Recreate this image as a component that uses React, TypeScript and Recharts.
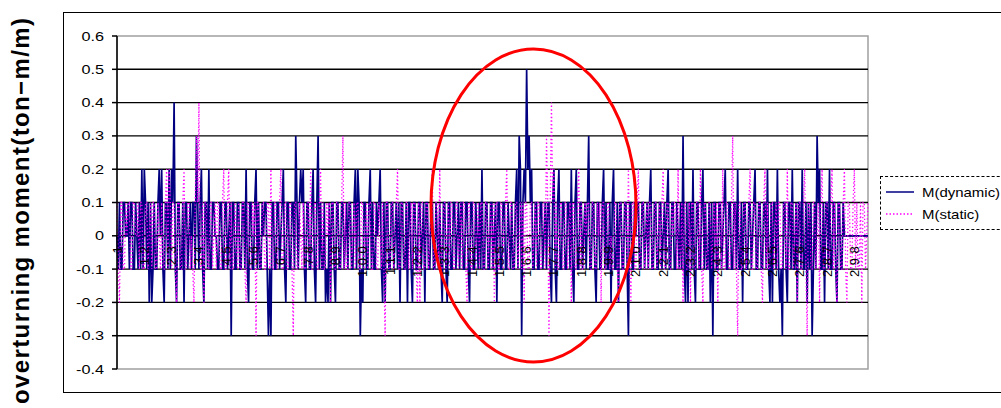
import React from 'react'
import { LineChart, Line, XAxis, YAxis, ReferenceLine, ReferenceArea } from 'recharts'

if (typeof document !== 'undefined') document.body.style.margin = '0'

// time axis: 606 samples, half a unit apart; a label every 22 samples (1, 12, 23, ...)
const sampleTime = Array.from({ length: 606 }, (_, i) => 1 + i / 2)
const yTicks = [0.6, 0.5, 0.4, 0.3, 0.2, 0.1, 0, -0.1, -0.2, -0.3, -0.4]
const gridValues = [0.5, 0.4, 0.3, 0.2, 0.1, 0, -0.1, -0.2, -0.3]

const seriesNames = ['M(dynamic)', 'M(static)']
const seriesColors = ['#000080', '#ff00ff']

// M(dynamic)
const mDynamic = [
  0, -.1, .1, -.1, -.1, .1, .1, 0, 0, .1, -.1, .1, .1, -.1, -.1, .1, 0, -.1, .1, -.1,
  .2, -.1, .2, .1, -.1, .1, -.2, .1, -.2, -.1, .1, -.1, -.1, .1, .2, 0, .2, -.1, -.2, .1,
  .1, -.1, .2, -.1, .2, .1, .4, -.1, -.2, .1, .1, -.1, -.1, .1, -.2, .1, .1, -.1, 0, .1,
  -.1, .1, .1, -.1, .3, .1, -.1, .1, .2, -.1, -.2, .1, .1, -.1, .2, -.1, -.1, .1, .1, 0,
  0, -.1, -.1, .1, .1, -.1, -.1, .1, .1, -.1, 0, .1, -.3, .1, .1, -.1, -.1, .1, .1, -.1,
  -.1, .1, .1, -.1, .2, -.1, -.2, .1, .1, -.1, -.1, .1, .2, -.1, .1, -.1, -.1, .1, 0, .1,
  .1, -.1, -.3, -.1, -.3, .1, .1, -.1, -.1, .1, .1, -.1, 0, .1, .2, -.1, -.2, .1, .1, -.1,
  -.1, .1, .1, -.1, .3, .1, -.1, .1, .2, .1, .2, -.1, -.2, .1, .1, -.1, -.1, .1, .2, -.1,
  -.2, .1, .3, -.1, .1, -.1, -.1, .1, -.2, -.1, -.2, .1, -.2, .1, .1, -.1, -.2, .1, .1, -.1,
  -.1, .1, .1, -.1, 0, .1, -.1, .1, .1, -.1, -.1, .1, .2, -.1, .2, .1, -.3, -.1, -.2, .1,
  .1, -.1, -.1, .1, .2, -.1, .1, -.1, -.1, .1, 0, .1, .2, -.1, -.2, .1, -.2, .1, .1, -.1,
  -.1, .1, .1, -.1, 0, .1, -.1, .1, -.2, .1, .1, -.1, -.1, .1, -.2, .1, .1, -.1, -.2, .1,
  .1, -.1, -.1, .1, .1, -.1, 0, .1, -.2, .1, .1, -.1, -.1, .1, .1, -.1, -.1, .1, 0, -.1,
  .1, -.1, -.2, .1, .1, -.1, -.2, .1, .1, -.1, -.1, .1, .1, -.1, 0, .1, -.1, .1, .1, -.1,
  -.1, .1, .1, -.1, -.2, .1, .1, -.1, -.1, .1, 0, -.1, .1, -.1, .2, -.1, -.1, .1, .1, -.1,
  -.1, .1, .1, -.1, 0, .1, -.2, .1, .1, -.1, -.1, .1, .1, -.1, -.1, .1, 0, -.1, .1, -.1,
  -.1, .1, .2, -.1, .3, .2, -.3, .1, .2, .1, .5, .2, .3, .1, .2, -.1, -.1, .1, .1, -.1,
  -.1, .1, .1, -.1, 0, .1, -.1, .1, .1, -.1, -.2, .1, .2, -.1, -.2, .1, .2, -.1, -.1, .1,
  .1, -.1, -.1, .1, .1, -.1, .2, -.1, -.2, .1, .2, -.1, -.1, .1, .1, -.1, 0, .1, -.1, .1,
  .3, -.1, -.1, .1, .1, -.1, -.2, .1, .1, -.1, -.1, .1, .2, -.1, .1, -.1, -.1, .1, -.2, .1,
  .2, -.1, -.1, .1, -.2, .1, .1, -.1, -.1, .1, .1, -.1, -.3, .1, .1, -.1, -.1, .1, 0, .1,
  .1, -.1, -.1, .1, .1, -.1, 0, .1, -.1, .1, .2, -.1, -.1, .1, .1, -.1, -.1, .1, .1, -.1,
  0, .1, -.1, .1, .2, -.1, -.1, .1, .1, -.1, -.1, .1, 0, -.1, .1, -.1, .3, -.1, -.2, .1,
  -.2, .1, .1, -.1, .2, -.1, -.2, .1, .1, -.1, -.1, .1, .2, -.1, .1, -.1, -.1, .1, -.2, .1,
  -.3, .1, .1, -.1, -.1, .1, .1, -.1, 0, .1, .2, -.1, -.1, .1, .1, -.1, -.1, .1, .1, -.1,
  .2, -.1, -.1, .1, -.2, .1, .1, -.1, -.1, .1, .1, -.1, 0, .1, .2, -.1, -.1, .1, .1, -.1,
  -.1, .1, .1, -.1, .2, -.1, -.2, .1, -.2, .1, .1, -.1, .2, -.1, -.2, -.1, -.3, .1, .1, -.1,
  -.2, .1, .1, -.1, .2, -.1, -.1, .1, -.2, .1, .1, -.1, .2, -.1, -.1, .1, -.2, .1, -.1, .1,
  -.3, -.1, .1, -.1, .3, .1, .2, -.1, -.1, .1, -.2, .1, .1, -.1, .2, -.1, -.1, .1, .1, -.1,
  -.2, .1, .1, -.1, -.1, .1, 0, 0, 0, 0, 0, 0, 0, 0, 0, 0, 0, 0, 0, 0,
  0, 0, 0, 0, 0, 0,
]

// M(static)
const mStatic = [
  .1, -.1, -.2, .1, .1, -.1, -.1, .1, 0, .1, .1, -.1, -.1, .1, .1, 0, 0, .1, -.1, .1,
  .1, -.1, -.1, .1, .1, -.1, 0, .1, -.1, .1, .1, -.1, -.1, .1, 0, -.1, .1, -.1, -.1, .1,
  .2, -.1, .2, .1, -.1, .1, .1, -.1, -.2, .1, .1, -.1, -.1, .1, .2, -.1, -.1, .1, .1, -.1,
  0, -.1, -.2, .1, .3, .1, .4, -.1, -.1, .1, -.2, .1, .1, -.1, -.1, .1, .1, -.1, 0, .1,
  -.1, .1, .1, -.1, -.1, .1, .2, -.1, -.1, .1, .2, -.1, .1, -.1, -.1, .1, 0, -.1, .1, -.1,
  -.1, .1, .1, -.1, -.2, .1, .1, -.1, -.1, .1, 0, .1, -.3, .1, .1, -.1, -.1, .1, .1, -.1,
  -.1, .1, .1, -.1, .2, -.1, -.1, .1, .1, -.1, 0, .1, .2, -.1, -.1, .1, .1, -.1, -.1, .1,
  .1, -.1, -.3, .1, .1, -.1, -.1, .1, 0, -.1, .1, -.1, -.1, .1, .1, -.1, .2, -.1, -.1, .1,
  .1, -.1, -.1, .1, .2, -.1, .1, -.1, -.1, .1, 0, .1, -.2, .1, .1, -.1, -.1, .1, .1, -.1,
  -.1, .1, .3, -.1, .1, -.1, -.1, .1, .1, -.1, 0, .1, -.1, .1, .1, -.1, -.1, .1, .1, -.1,
  0, .1, -.1, .1, .1, -.1, -.1, .1, .1, -.1, -.1, .1, 0, -.1, .1, -.1, -.3, .1, .1, -.1,
  -.1, .1, .1, -.1, 0, .1, .2, -.1, -.1, .1, .1, -.1, -.1, .1, .1, -.1, 0, .1, -.1, .1,
  .1, -.1, -.2, .1, -.2, .1, .1, -.1, -.1, .1, .1, -.1, 0, .1, .2, -.1, -.1, .1, .1, -.1,
  .2, -.1, -.1, .1, .1, -.1, 0, .1, -.1, .1, .1, -.1, -.1, .1, .1, -.1, 0, .1, -.1, .1,
  .1, -.1, -.2, .1, .1, -.1, -.1, .1, .1, -.1, 0, .1, -.1, .1, .1, -.1, -.1, .1, .1, -.1,
  0, .1, -.1, .1, -.2, .1, .1, -.1, -.1, .1, .1, -.1, 0, .1, .2, -.1, -.1, .1, .1, -.1,
  -.1, .1, .1, -.1, 0, .1, -.1, .1, -.2, .1, .1, -.1, -.1, .1, .1, -.1, 0, .1, -.1, .1,
  .1, -.1, -.1, .1, .1, -.1, .3, .1, -.3, .1, .4, .1, .2, -.1, .1, -.1, -.1, .1, .1, -.1,
  -.1, .1, .1, -.1, 0, .1, -.2, .1, .1, -.1, -.1, .1, .2, -.1, .1, -.1, -.1, .1, 0, .1,
  .1, -.1, -.1, .1, .1, -.1, -.1, .1, 0, .1, -.2, .1, .1, -.1, -.1, .1, .1, -.1, 0, -.1,
  -.1, .1, .1, -.1, -.2, .1, .1, -.1, -.1, .1, .1, -.1, .2, -.1, -.2, .1, .1, -.1, -.1, .1,
  .2, -.1, -.1, .1, .1, -.1, 0, .1, -.1, .1, .1, -.1, -.1, .1, .1, -.1, 0, .1, -.1, .1,
  .2, -.1, -.1, .1, .1, -.1, -.1, .1, 0, .1, .1, -.1, .2, -.1, -.1, .1, -.2, .1, .1, -.1,
  -.1, .1, -.2, .1, .1, -.1, -.1, .1, .1, -.1, .2, -.1, -.2, .1, .1, -.1, -.1, .1, .1, -.1,
  0, .1, -.1, .1, -.2, .1, .1, -.1, .2, -.1, -.1, .1, .1, -.1, -.1, .1, .3, -.1, .1, -.1,
  -.3, .1, .1, -.1, -.1, .1, .1, -.1, 0, .1, .2, -.1, -.1, .1, .1, -.1, -.1, .1, .1, -.1,
  -.2, .1, .2, -.1, .1, -.1, -.1, .1, .1, -.1, 0, .1, -.1, .1, .1, -.1, -.1, .1, .1, -.1,
  .2, -.1, -.1, .1, .1, -.1, 0, .1, -.2, .1, .1, -.1, -.1, .1, .2, -.1, -.3, .1, .1, -.1,
  -.1, .1, .1, -.1, 0, .1, -.2, .1, .2, -.1, -.1, .1, .1, -.1, -.1, .1, .2, -.1, .1, -.1,
  -.2, .1, .1, -.1, -.1, .1, .2, -.1, -.2, .1, .1, -.1, -.1, .1, .2, -.1, .1, -.1, -.1, .1,
  -.2, .1, .1, -.1, 0, .1,
]

const data = sampleTime.map((t, i) => ({ t, dyn: mDynamic[i], sta: mStatic[i] }))

const FONT = '"Liberation Sans", Arial, sans-serif'
const PLOT_TOP = 36
const PLOT_H = 333
const ZERO_Y = PLOT_TOP + PLOT_H * 0.6

function YTick({ x, y, payload }: any) {
  return (
    <text transform={`translate(${x},${y + 4.5}) scale(1.3,1)`} textAnchor="end"
      fontSize={12.5} fontFamily={FONT} fill="#000">
      {String(payload.value)}
    </text>
  )
}

function XTick({ x, payload }: any) {
  return (
    <text transform={`translate(${x + 4.5},${ZERO_Y + 6}) rotate(-90)`} textAnchor="end"
      fontSize={13} letterSpacing={4.5} fontFamily={FONT} fill="#000">
      {payload.value}
    </text>
  )
}

function LegendBox() {
  return (
    <div style={{
      position: 'absolute', left: 880, top: 176, width: 140, height: 54,
      border: '1.5px dashed #000', background: '#fff', padding: '4px 0 0 5px',
      boxSizing: 'border-box', fontFamily: FONT, fontSize: 13,
    }}>
      {seriesNames.map((name, i) => (
        <div key={name} style={{ display: 'flex', alignItems: 'center', height: 22 }}>
          <svg width={30} height={6}>
            <line x1={0} y1={3} x2={28} y2={3} stroke={seriesColors[i]} strokeWidth={1.5}
              strokeDasharray={i === 1 ? '1.5 2' : undefined} />
          </svg>
          <span style={{ marginLeft: 6, display: 'inline-block', transform: 'scaleX(1.15)', transformOrigin: 'left' }}>
            {name}
          </span>
        </div>
      ))}
    </div>
  )
}

export default function App() {
  return (
    <div style={{ position: 'relative', width: 1001, height: 408, overflow: 'hidden', background: '#fff' }}>
      <div style={{ position: 'absolute', left: 63, top: 12, width: 1000, height: 379, border: '1px solid #000' }} />
      <LineChart width={1001} height={408} data={data}
        margin={{ top: PLOT_TOP, right: 133, bottom: 38, left: 67 }}>
        <ReferenceArea y1={-0.4} y2={0.6} fill="none" stroke="#a0a0a0" strokeWidth={1.5} ifOverflow="visible" />
        {gridValues.map(v => (
          <ReferenceLine key={v} y={v} stroke="#000" strokeWidth={1.4} />
        ))}
        <YAxis type="number" domain={[-0.4, 0.6]} ticks={yTicks} interval={0} width={50}
          tickSize={5} tickMargin={8} axisLine={{ stroke: '#000', strokeWidth: 1.5 }}
          tickLine={{ stroke: '#000', strokeWidth: 1.5 }} tick={<YTick />} />
        <Line type="linear" dataKey="dyn" name={seriesNames[0]} stroke={seriesColors[0]} strokeWidth={1.7}
          dot={false} activeDot={false} isAnimationActive={false} />
        <Line type="linear" dataKey="sta" name={seriesNames[1]} stroke={seriesColors[1]} strokeWidth={1.3}
          strokeDasharray="1.3 2.4" dot={false} activeDot={false} isAnimationActive={false} />
        <XAxis dataKey="t" interval={21} height={1} axisLine={false} tickLine={false} tick={<XTick />} />
      </LineChart>
      <LegendBox />
      <svg width={1001} height={408} style={{ position: 'absolute', left: 0, top: 0, pointerEvents: 'none' }}>
        <text transform="translate(29,211) rotate(-90)" textAnchor="middle" fontFamily={FONT}
          fontSize={24} fontWeight="bold" textLength={386} lengthAdjust="spacing">
          overturning moment(ton−m/m)
        </text>
        <ellipse cx={533.5} cy={205.5} rx={102.5} ry={156.5} fill="none" stroke="#ff0000" strokeWidth={3} />
      </svg>
    </div>
  )
}
